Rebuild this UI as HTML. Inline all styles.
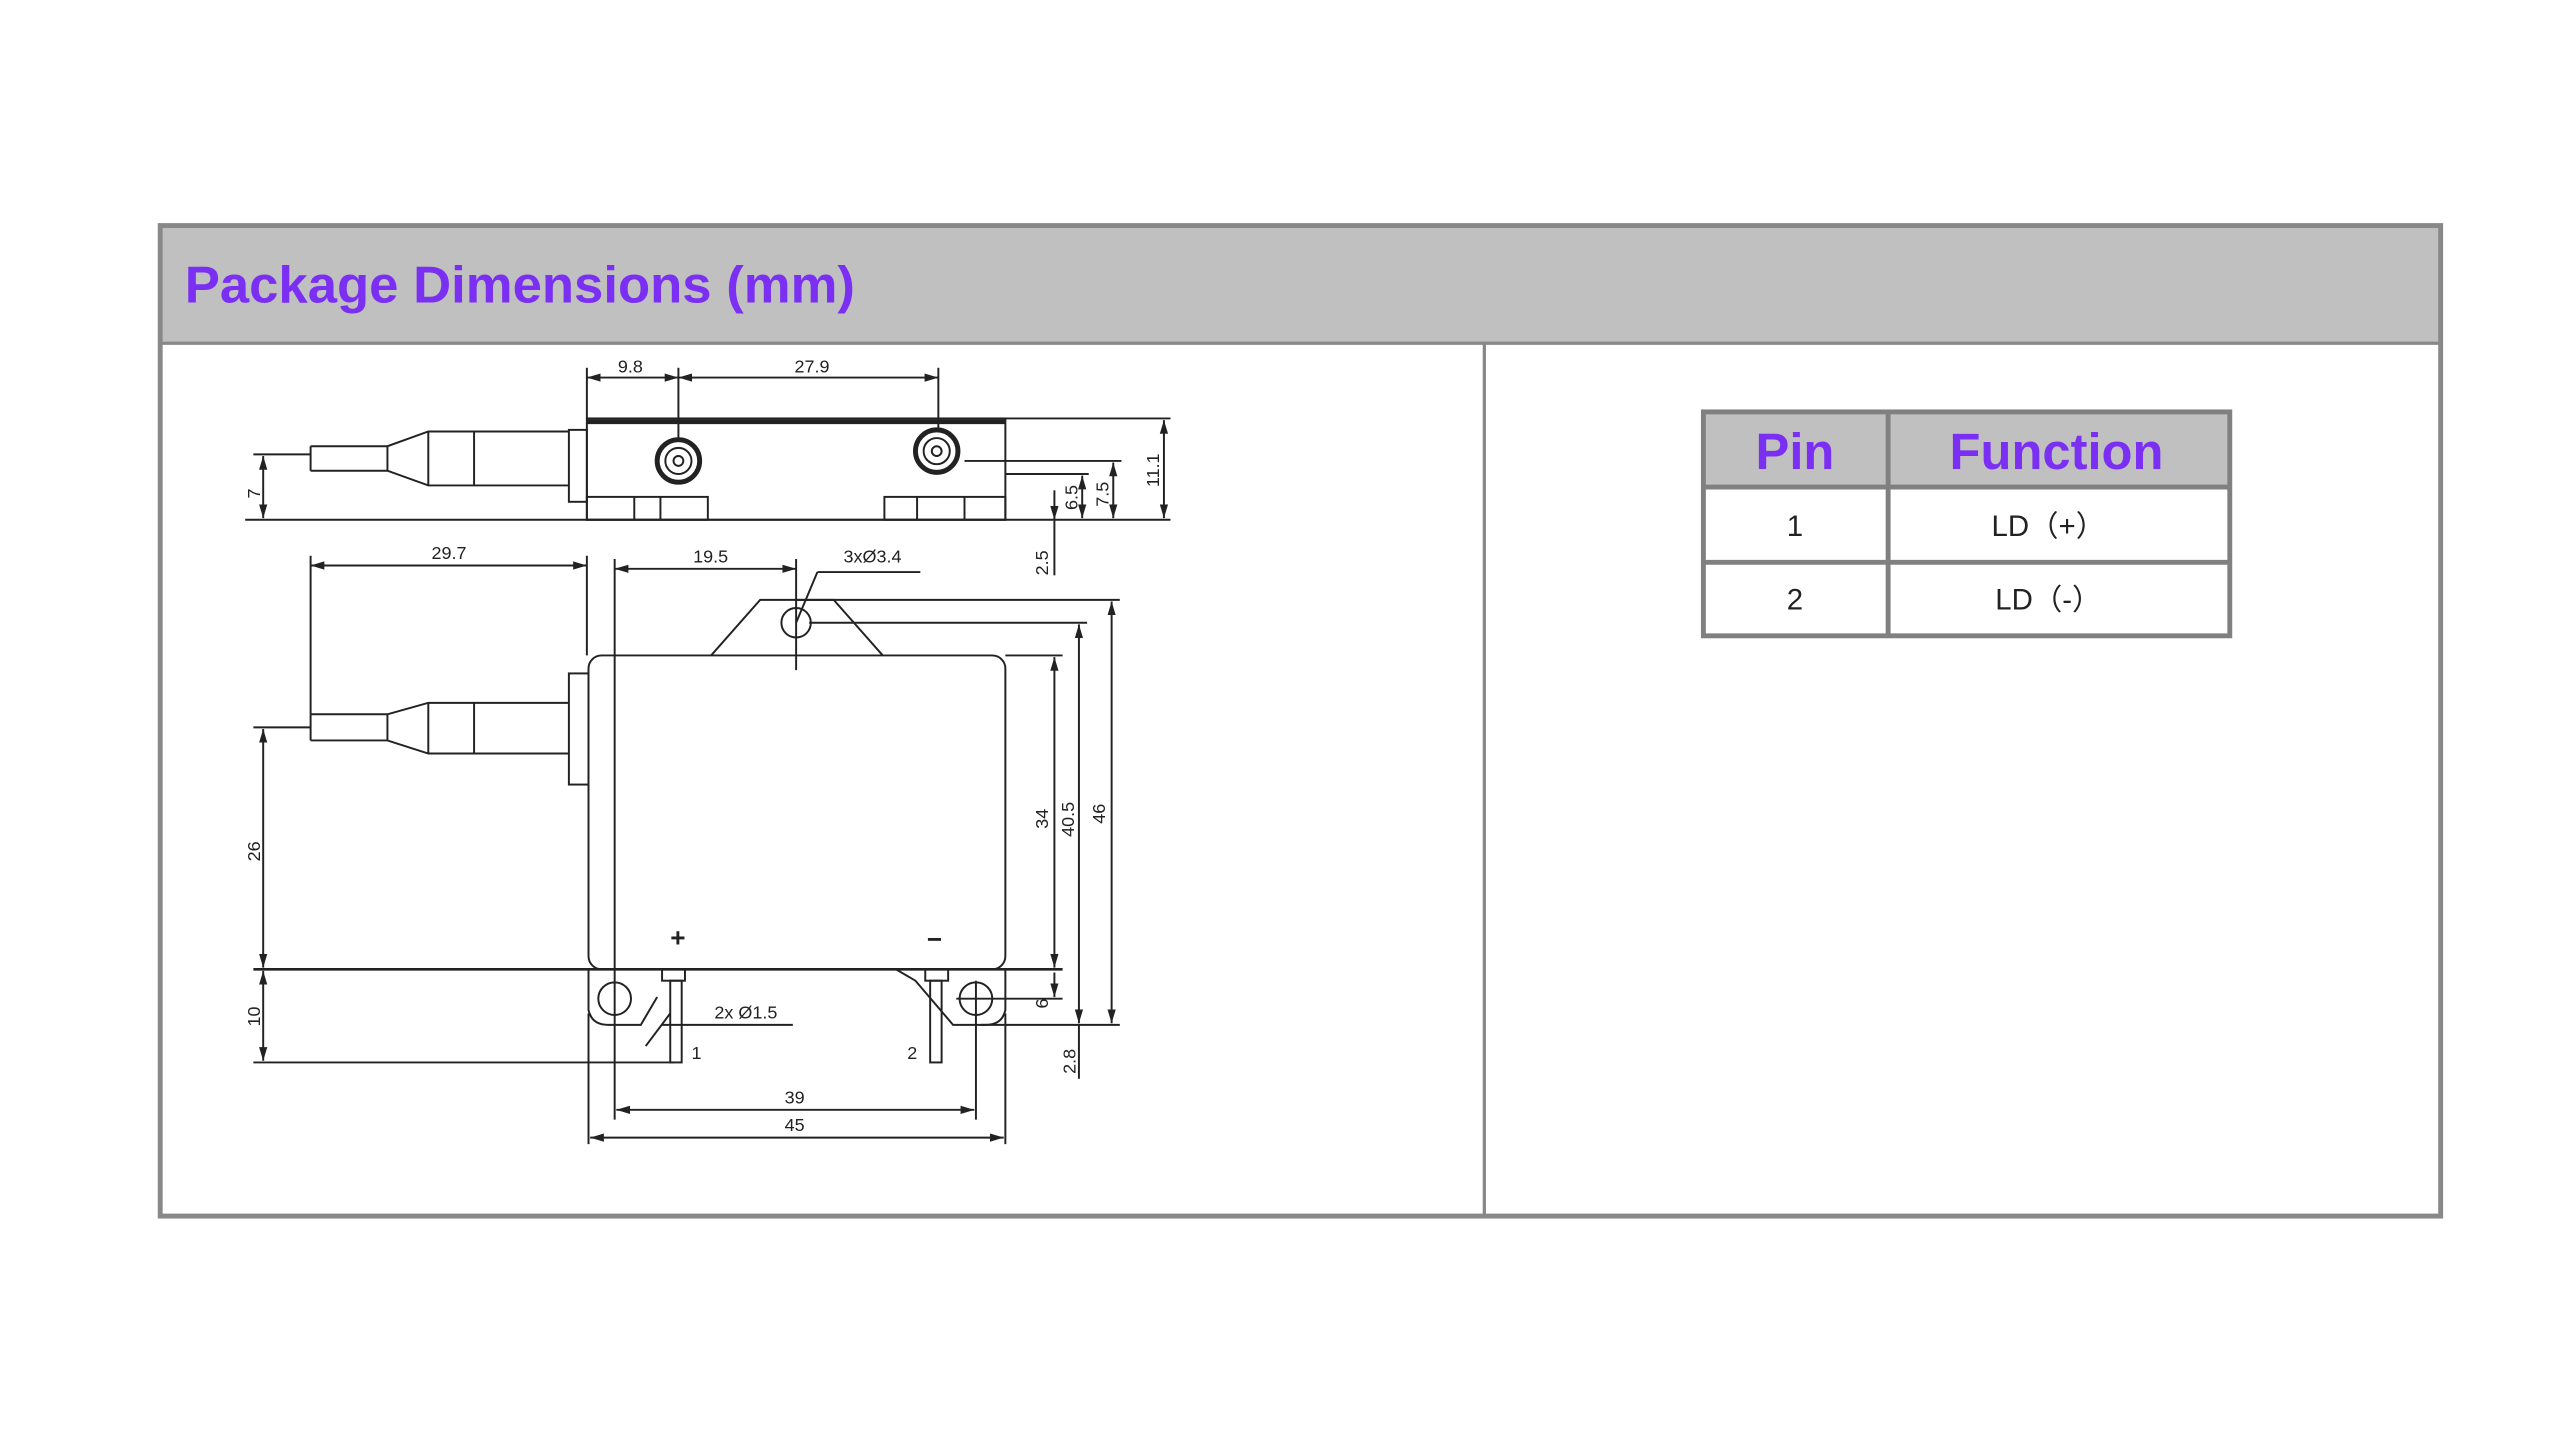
<!DOCTYPE html>
<html><head><meta charset="utf-8"><style>
html,body{margin:0;padding:0;background:#fff;width:2560px;height:1440px;overflow:hidden}
svg{display:block}
text{font-family:"Liberation Sans",sans-serif}
</style></head><body>
<svg width="2560" height="1440" viewBox="0 0 1566 881" preserveAspectRatio="none" xmlns="http://www.w3.org/2000/svg">
<defs>
<marker id="a" viewBox="0 0 10 10" refX="10" refY="5" markerWidth="7" markerHeight="7" orient="auto-start-reverse"><path d="M0,2 L10,5 L0,8z" fill="#222"/></marker>
</defs>
<rect x="0" y="0" width="1566" height="881" fill="#fff"/>
<!-- frame -->
<rect x="98" y="138" width="1395" height="72" fill="#c0c0c0"/>
<rect x="98" y="138" width="1395" height="606" fill="none" stroke="#888" stroke-width="3"/>
<line x1="98" y1="210" x2="1493" y2="210" stroke="#888" stroke-width="2"/>
<line x1="908" y1="210" x2="908" y2="744" stroke="#888" stroke-width="2"/>
<text x="113" y="185" font-size="32" font-weight="bold" fill="#7b2ff2" textLength="410" lengthAdjust="spacingAndGlyphs">Package Dimensions (mm)</text>
<!-- table -->
<rect x="1042" y="252" width="322" height="46" fill="#c0c0c0"/>
<g stroke="#808080" stroke-width="3" fill="none">
<rect x="1042" y="252" width="322" height="137"/>
<line x1="1042" y1="298" x2="1364" y2="298"/>
<line x1="1042" y1="344" x2="1364" y2="344"/>
<line x1="1155" y1="252" x2="1155" y2="389"/>
</g>
<text x="1098" y="287" font-size="31" font-weight="bold" fill="#7b2ff2" text-anchor="middle">Pin</text>
<text x="1258" y="287" font-size="31" font-weight="bold" fill="#7b2ff2" text-anchor="middle">Function</text>
<text x="1098" y="328" font-size="18" fill="#222" text-anchor="middle">1</text>
<text x="1253" y="328" font-size="18" fill="#222" text-anchor="middle">LD（+）</text>
<text x="1098" y="373" font-size="18" fill="#222" text-anchor="middle">2</text>
<text x="1253" y="373" font-size="18" fill="#222" text-anchor="middle">LD（-）</text>

<!-- drawing -->
<g stroke="#222" stroke-width="1.2" fill="none">
<rect x="359" y="256" width="256" height="62"/>
<line x1="359" y1="258" x2="615" y2="258" stroke-width="3"/>
<rect x="348" y="263" width="11" height="44"/>
<path d="M190,273 L237,273 L262,264 L348,264 M190,288 L237,288 L262,297 L348,297 M190,273 L190,288 M237,273 L237,288 M262,264 L262,297 M290,264 L290,297"/>
<rect x="359" y="304" width="74" height="14"/>
<rect x="541" y="304" width="74" height="14"/>
<line x1="388" y1="304" x2="388" y2="318"/><line x1="404" y1="304" x2="404" y2="318"/>
<line x1="561" y1="304" x2="561" y2="318"/><line x1="590" y1="304" x2="590" y2="318"/>
<circle cx="415" cy="282" r="13" stroke-width="3"/><circle cx="415" cy="282" r="8"/><circle cx="415" cy="282" r="3"/>
<circle cx="573" cy="276" r="13" stroke-width="3"/><circle cx="573" cy="276" r="8"/><circle cx="573" cy="276" r="3"/>
<line x1="150" y1="318" x2="716" y2="318"/>
<line x1="155" y1="278" x2="190" y2="278"/>
<line x1="615" y1="256" x2="716" y2="256"/>
<line x1="590" y1="282" x2="686" y2="282"/>
<line x1="615" y1="290" x2="666" y2="290"/>
<line x1="359" y1="225" x2="359" y2="256"/>
<line x1="415" y1="225" x2="415" y2="270"/>
<line x1="574" y1="225" x2="574" y2="262"/>
<line x1="359" y1="231" x2="415" y2="231" marker-start="url(#a)" marker-end="url(#a)"/>
<line x1="415" y1="231" x2="574" y2="231" marker-start="url(#a)" marker-end="url(#a)"/>
<line x1="712" y1="257" x2="712" y2="317" marker-start="url(#a)" marker-end="url(#a)"/>
<line x1="681" y1="283" x2="681" y2="317" marker-start="url(#a)" marker-end="url(#a)"/>
<line x1="662" y1="291" x2="662" y2="317" marker-start="url(#a)" marker-end="url(#a)"/>
<line x1="645" y1="300" x2="645" y2="318" marker-end="url(#a)"/>
<line x1="645" y1="318" x2="645" y2="352"/>
<line x1="161" y1="279" x2="161" y2="317" marker-start="url(#a)" marker-end="url(#a)"/>

<rect x="360" y="401" width="255" height="192" rx="8"/>
<path d="M435,401 L465,367 L510,367 L540,401"/>
<circle cx="487" cy="381" r="9"/>
<rect x="348" y="412" width="12" height="68"/>
<path d="M190,437 L237,437 L262,430 L348,430 M190,453 L237,453 L262,461 L348,461 M190,437 L190,453 M237,437 L237,453 M262,430 L262,461 M290,430 L290,461"/>
<path d="M360,593 L360,618 Q362,627 372,627 L392,627 L402,610 M615,593 L615,618 Q613,627 603,627 L583,627 L560,600 L548,593"/>
<circle cx="376" cy="611" r="10"/><circle cx="597" cy="611" r="10"/>
<rect x="405" y="593" width="14" height="7"/><rect x="566" y="593" width="14" height="7"/>
<rect x="410" y="600" width="7" height="50"/><rect x="569" y="600" width="7" height="50"/>
<line x1="155" y1="593" x2="650" y2="593" stroke-width="1.6"/>
<line x1="155" y1="445" x2="190" y2="445"/>
<line x1="155" y1="650" x2="412" y2="650"/>
<line x1="190" y1="340" x2="190" y2="437"/>
<line x1="359" y1="340" x2="359" y2="401"/>
<line x1="376" y1="342" x2="376" y2="685"/>
<line x1="487" y1="342" x2="487" y2="410"/>
<line x1="360" y1="620" x2="360" y2="700"/>
<line x1="615" y1="620" x2="615" y2="700"/>
<line x1="597" y1="600" x2="597" y2="685"/>
<line x1="487" y1="367" x2="685" y2="367"/>
<line x1="495" y1="381" x2="665" y2="381"/>
<line x1="615" y1="401" x2="650" y2="401"/>
<line x1="585" y1="611" x2="650" y2="611"/>
<line x1="600" y1="627" x2="685" y2="627"/>
<line x1="190" y1="346" x2="359" y2="346" marker-start="url(#a)" marker-end="url(#a)"/>
<line x1="376" y1="348" x2="487" y2="348" marker-start="url(#a)" marker-end="url(#a)"/>
<line x1="487" y1="381" x2="500" y2="350"/><line x1="500" y1="350" x2="563" y2="350"/>
<line x1="645" y1="402" x2="645" y2="592" marker-start="url(#a)" marker-end="url(#a)"/>
<line x1="660" y1="382" x2="660" y2="626" marker-start="url(#a)" marker-end="url(#a)"/>
<line x1="680" y1="368" x2="680" y2="626" marker-start="url(#a)" marker-end="url(#a)"/>
<line x1="645" y1="595" x2="645" y2="610" marker-end="url(#a)"/>
<line x1="660" y1="627" x2="660" y2="660"/>
<line x1="161" y1="446" x2="161" y2="592" marker-start="url(#a)" marker-end="url(#a)"/>
<line x1="161" y1="594" x2="161" y2="649" marker-start="url(#a)" marker-end="url(#a)"/>
<line x1="377" y1="679" x2="596" y2="679" marker-start="url(#a)" marker-end="url(#a)"/>
<line x1="361" y1="696" x2="614" y2="696" marker-start="url(#a)" marker-end="url(#a)"/>
<line x1="405" y1="627" x2="485" y2="627"/>
<line x1="395" y1="640" x2="410" y2="620"/>
</g>
<g font-size="11" fill="#222">
<text x="378" y="228">9.8</text>
<text x="486" y="228">27.9</text>
<text x="264" y="342">29.7</text>
<text x="424" y="344">19.5</text>
<text x="516" y="344">3xØ3.4</text>
<text x="437" y="623">2x Ø1.5</text>
<text x="423" y="648">1</text>
<text x="555" y="648">2</text>
<text x="480" y="675">39</text>
<text x="480" y="692">45</text>
<text x="410" y="579" font-size="16" font-weight="bold">+</text>
<text x="567" y="580" font-size="16" font-weight="bold">−</text>
<text transform="translate(159,305) rotate(-90)">7</text>
<text transform="translate(659,312) rotate(-90)">6.5</text>
<text transform="translate(678,310) rotate(-90)">7.5</text>
<text transform="translate(709,298) rotate(-90)">11.1</text>
<text transform="translate(641,352) rotate(-90)">2.5</text>
<text transform="translate(159,527) rotate(-90)">26</text>
<text transform="translate(159,628) rotate(-90)">10</text>
<text transform="translate(641,507) rotate(-90)">34</text>
<text transform="translate(657,512) rotate(-90)">40.5</text>
<text transform="translate(676,504) rotate(-90)">46</text>
<text transform="translate(641,617) rotate(-90)">6</text>
<text transform="translate(658,657) rotate(-90)">2.8</text>
</g>
</svg>
</body></html>
